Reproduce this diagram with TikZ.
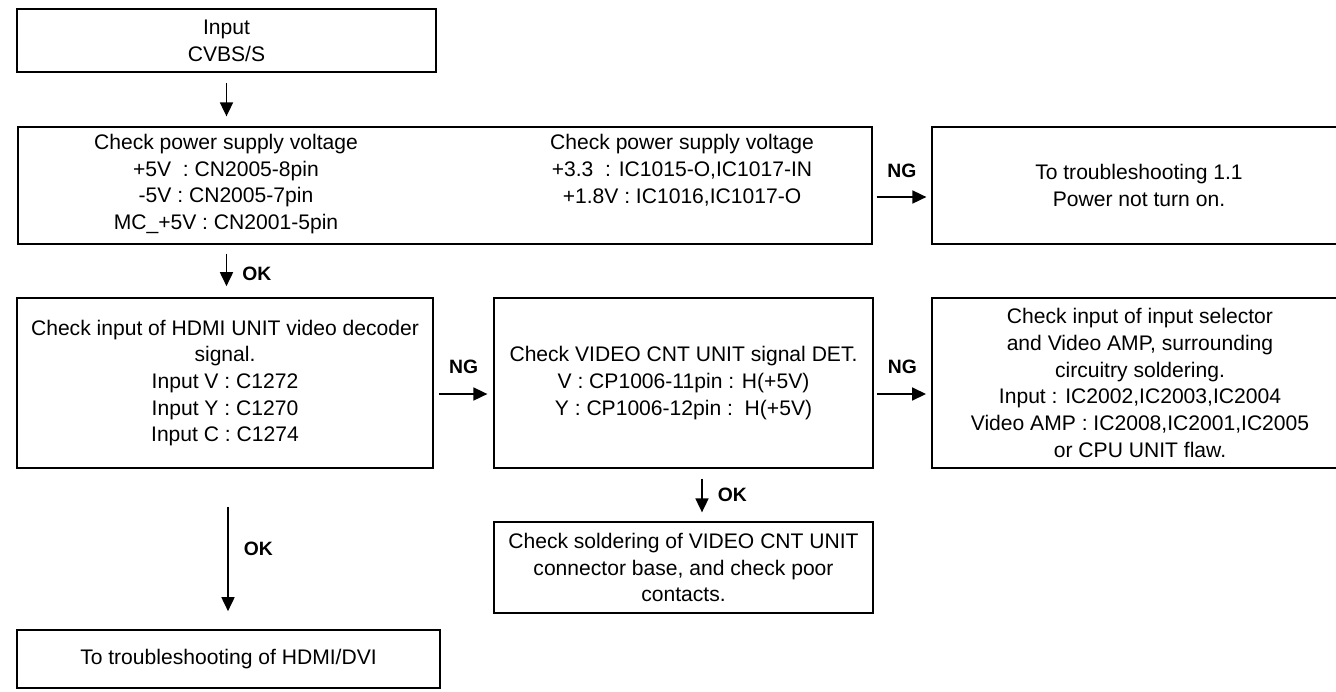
\documentclass[tikz,border=0pt]{standalone}
\usepackage{fontspec}
\setmainfont{Liberation Sans}
\usetikzlibrary{positioning,arrows.meta}

\begin{document}
\begin{tikzpicture}[x=0.02cm, y=-0.02cm,
  box/.style={draw, line width=0.75pt, inner sep=0pt, align=center, font=\fontsize{12}{15.2}\selectfont},
  boxb/.style={box, line width=1.15pt},
  boxm/.style={box, line width=0.95pt},
  txt/.style={inner sep=0pt, align=center, font=\fontsize{12}{15.2}\selectfont},
  flow/.style={line width=1pt, -{Triangle[length=0.28cm, width=0.26cm]}},
  tag/.style={inner sep=0pt, font=\fontsize{11}{12}\selectfont\bfseries}
]
  \useasboundingbox (0,0) rectangle (1336,691);

  \node[boxb, minimum width=8.38cm, minimum height=1.26cm] (inp) at (226.5,40.5) {Input\\CVBS/S};

  % power check, two columns of text in one box
  \node[box, minimum width=17.08cm, minimum height=2.34cm] (pwr) at (445,185.5) {};
  \node[txt] (pwrl) at (226,184) {Check power supply voltage\\+5V\ \ : CN2005-8pin\\-5V : CN2005-7pin\\MC\_+5V : CN2001-5pin};
  \node[txt] (pwrr) at (682,170) {Check power supply voltage\\+3.3\ \ : IC1015-O,IC1017-IN\\+1.8V : IC1016,IC1017-O};
  \node[box, minimum width=8.28cm, minimum height=2.34cm] (pnt) at (1139,185.5) {To troubleshooting 1.1\\Power not turn on.};

  \node[boxm, minimum width=8.32cm, minimum height=3.4cm] (hdmi) at (225,383) {Check input of HDMI UNIT video decoder\\signal.\\Input V : C1272\\Input Y : C1270\\Input C : C1274};
  \node[box, minimum width=7.58cm, minimum height=3.4cm] (vcnt) at (683.5,383) {Check VIDEO CNT UNIT signal DET.\\V : CP1006-11pin : H(+5V)\\Y : CP1006-12pin :\ \ H(+5V)};
  \node[boxb, minimum width=8.32cm, minimum height=3.4cm] (sel) at (1140,383) {Check input of input selector\\and Video AMP, surrounding\\circuitry soldering.\\Input : IC2002,IC2003,IC2004\\Video AMP : IC2008,IC2001,IC2005\\or CPU UNIT flaw.};

  \node[box, minimum width=7.58cm, minimum height=1.82cm] (sold) at (683.5,567.5) {Check soldering of VIDEO CNT UNIT\\connector base, and check poor\\contacts.};
  \node[boxm, minimum width=8.46cm, minimum height=1.16cm] (dvi) at (228.5,659) {To troubleshooting of HDMI/DVI};

  \draw[flow, shorten <=0.2cm, shorten >=0.2cm] (inp.south) -- (inp.south |- pwr.north);
  \draw[flow, shorten <=0.18cm, shorten >=0.22cm] (inp.south |- pwr.south) -- node[tag, right=0.3cm, yshift=-0.05cm]{OK} (inp.south |- hdmi.north);
  \draw[flow, shorten <=0.76cm, shorten >=0.36cm] ([xshift=0.06cm]hdmi.south) -- node[tag, right=0.3cm]{OK} ([xshift=0.06cm]hdmi.south |- dvi.north);
  \draw[flow, shorten <=0.2cm, shorten >=0.18cm] ([xshift=0.37cm]vcnt.south) -- node[tag, right=0.3cm]{OK} ([xshift=0.37cm]sold.north);

  \draw[flow, shorten <=0.08cm, shorten >=0.1cm] ([yshift=-0.23cm]pwr.east) -- node[tag, above=0.36cm]{NG} ([yshift=-0.23cm]pnt.west);
  \draw[flow, shorten <=0.1cm, shorten >=0.12cm] ([yshift=-0.22cm]hdmi.east) -- node[tag, above=0.38cm]{NG} ([yshift=-0.22cm]vcnt.west);
  \draw[flow, shorten <=0.06cm, shorten >=0.1cm] ([yshift=-0.22cm]vcnt.east) -- node[tag, above=0.38cm]{NG} ([yshift=-0.22cm]sel.west);
\end{tikzpicture}
\end{document}
